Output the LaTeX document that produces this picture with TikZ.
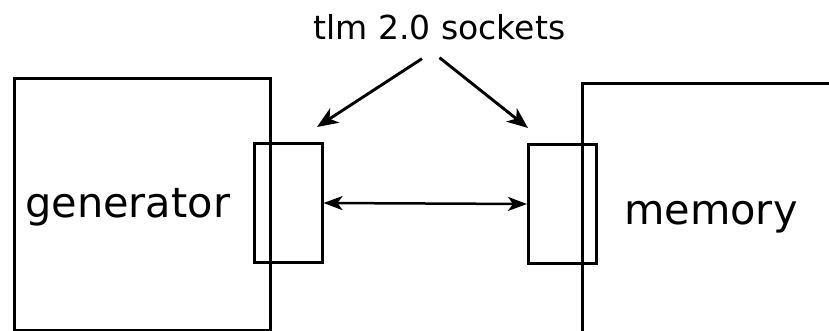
\documentclass[tikz,border=0pt]{standalone}
\usepackage{fontspec}
\setmainfont{DejaVu Sans}
\usetikzlibrary{arrows.meta,positioning}

\begin{document}
\begin{tikzpicture}[x=1pt, y=-1pt,
    block/.style={draw, line width=3.2pt, inner sep=0pt, anchor=north west},
    socket/.style={draw, line width=3pt, inner sep=0pt, anchor=north west,
      minimum width=68pt, minimum height=119pt},
    blocktext/.style={inner sep=0pt, anchor=base west, font=\fontsize{41.5}{48}\selectfont},
    pointer/.style={-{Stealth[length=21pt, width=17pt, inset=6pt]}, line width=2.9pt},
    link/.style={{Stealth[length=19pt, width=14pt, inset=5pt]}-{Stealth[length=19pt, width=14pt, inset=5pt]}, line width=2.5pt}]
  % pixel-like frame, y grows downwards
  \useasboundingbox (0,0) rectangle (829,331);
  \clip (0,0) rectangle (829,331);

  % the two modules
  \node[block, minimum width=256pt, minimum height=252pt] (gen) at (12.7,77) {};
  \node[block, minimum width=300pt, minimum height=300pt] (mem) at (580.5,82) {};
  \node[blocktext] (gentext) at (25,217) {generator};
  \node[blocktext] (memtext) at (624,224) {memory};

  % sockets sitting on the module borders
  \node[socket] (sockA) at (252.5,142) {};
  \node[socket] (sockB) at (527,143) {};

  % caption and its pointers
  \node[inner sep=0pt, anchor=base, font=\fontsize{33}{40}\selectfont] (lbl) at (439.5,40) {tlm 2.0 sockets};
  \coordinate (tipA) at (317,127);
  \coordinate (tipB) at (528,128);
  \draw[pointer] ([shift={(-17.5,18)}]lbl.south) -- (tipA);
  \draw[pointer] ([shift={(0,17)}]lbl.south) -- (tipB);

  % transport between the sockets
  \draw[link] (sockA.east) -- (sockB.west);
\end{tikzpicture}
\end{document}
